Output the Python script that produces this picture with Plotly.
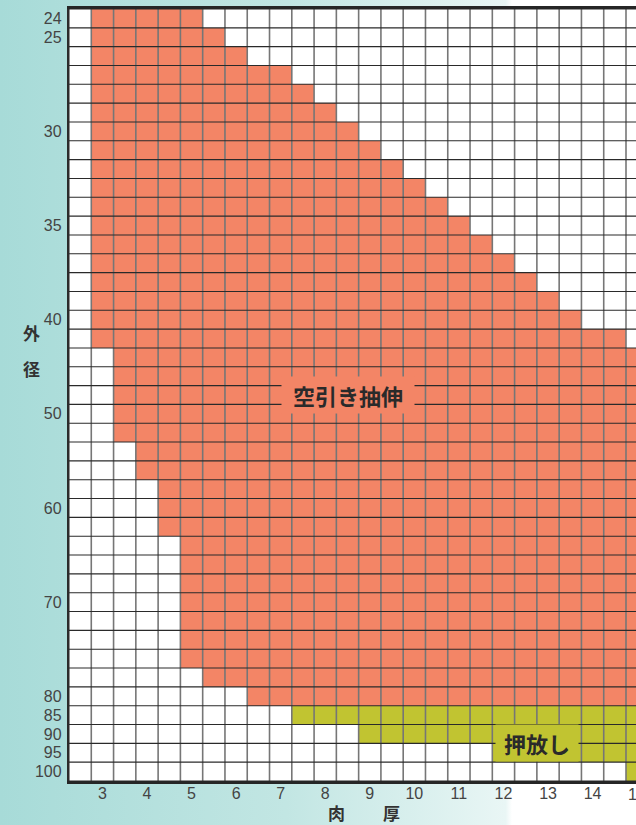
import base64
import plotly.graph_objects as go

# ---------------- data ----------------
thickness = [2.5, 3.0, 3.5, 4.0, 4.5, 5.0, 5.5, 6.0, 6.5, 7.0, 7.5, 8.0, 8.5,
             9.0, 9.5, 10.0, 10.5, 11.0, 11.5, 12.0, 12.5, 13.0, 13.5, 14.0, 14.5, 15.0]
outer_diameter = [24, 25, 26, 27, 28, 29, 30, 31, 32, 33, 34, 35, 36, 37, 38, 39, 40,
                  42, 44, 46, 48, 50, 52, 54, 56, 58, 60, 62, 64, 66, 68, 70, 72, 74,
                  76, 78, 80, 85, 90, 95, 100]
# 空引き抽伸 range (min, max thickness) for each outer diameter row (None = no cells)
cold_min = [3.0, 3.0, 3.0, 3.0, 3.0, 3.0, 3.0, 3.0, 3.0, 3.0, 3.0, 3.0, 3.0, 3.0, 3.0, 3.0, 3.0,
            3.0, 3.5, 3.5, 3.5, 3.5, 3.5, 4.0, 4.0, 4.5, 4.5, 4.5, 5.0, 5.0, 5.0, 5.0, 5.0, 5.0,
            5.0, 5.5, 6.5, None, None, None, None]
cold_max = [5.0, 5.5, 6.0, 7.0, 7.5, 8.0, 8.5, 9.0, 9.5, 10.0, 10.5, 11.0, 11.5, 12.0, 12.5, 13.0, 13.5,
            14.5, 15.0, 15.0, 15.0, 15.0, 15.0, 15.0, 15.0, 15.0, 15.0, 15.0, 15.0, 15.0, 15.0, 15.0, 15.0, 15.0,
            15.0, 15.0, 15.0, None, None, None, None]
# 押放し range
push_min = [None] * 37 + [7.5, 9.0, 12.0, 15.0]
push_max = [None] * 37 + [15.0, 15.0, 15.0, 15.0]

x_ticks = [3, 4, 5, 6, 7, 8, 9, 10, 11, 12, 13, 14, 15]
y_tick_labels = [24, 25, 30, 35, 40, 50, 60, 70, 80, 85, 90, 95, 100]

SALMON = "#F38566"
GREEN = "#C1C431"

# ---------------- build grid ----------------
z = []
for i, d in enumerate(outer_diameter):
    row = []
    for t in thickness:
        v = 0
        if cold_min[i] is not None and cold_min[i] <= t <= cold_max[i]:
            v = 1
        if push_min[i] is not None and push_min[i] <= t <= push_max[i]:
            v = 2
        row.append(v)
    z.append(row)

rows = list(range(len(outer_diameter)))
half = (thickness[1] - thickness[0]) / 2

fig = go.Figure()
fig.add_trace(go.Heatmap(
    x=thickness, y=rows, z=z, zmin=0, zmax=2,
    colorscale=[[0, "#FFFFFF"], [0.33, "#FFFFFF"], [0.34, SALMON], [0.66, SALMON],
                [0.67, GREEN], [1, GREEN]],
    showscale=False, hoverinfo="skip"))

# grid lines
xb = [t - half for t in thickness] + [thickness[-1] + half]
yb = [r - 0.5 for r in rows] + [rows[-1] + 0.5]
vx, vy = [], []
for x in xb:
    vx += [x, x, None]
    vy += [yb[0], yb[-1], None]
hx, hy = [], []
for y in yb:
    hx += [xb[0], xb[-1], None]
    hy += [y, y, None]
fig.add_trace(go.Scatter(x=vx, y=vy, mode="lines",
                         line=dict(color="#767676", width=1.6), hoverinfo="skip", showlegend=False))
fig.add_trace(go.Scatter(x=hx, y=hy, mode="lines",
                         line=dict(color="#2a2a2a", width=1.1), hoverinfo="skip", showlegend=False))

# ---------------- layout ----------------
W, H = 636, 825
ML, MR, MT, MB = 69, 0, 9, 44
pw = W - ML - MR
ph = H - MT - MB
col_px = 22.28
x_right = xb[0] + pw / (col_px * 2)


def px_x(px):
    return (px - ML) / pw


def px_y(py):
    return (H - MB - py) / ph


svg = (f'<svg xmlns="http://www.w3.org/2000/svg" width="{W}" height="{H}">'
       '<defs><linearGradient id="g" x1="0" y1="0" x2="1" y2="0">'
       '<stop offset="0" stop-color="#a7dbd8"/>'
       '<stop offset="0.45" stop-color="#c2e6e3"/>'
       '<stop offset="0.795" stop-color="#e9f6f5"/>'
       '<stop offset="0.805" stop-color="#ffffff"/>'
       '<stop offset="1" stop-color="#ffffff"/>'
       '</linearGradient></defs>'
       f'<rect x="0" y="0" width="{W}" height="{H}" fill="url(#g)"/></svg>')
src = "data:image/svg+xml;base64," + base64.b64encode(svg.encode()).decode()

tickfont = dict(family="Liberation Sans, Arial", size=16, color="#444444")

fig.update_layout(
    width=W, height=H,
    margin=dict(l=ML, r=MR, t=MT, b=MB, pad=0),
    paper_bgcolor="#ffffff", plot_bgcolor="#ffffff",
    showlegend=False,
    images=[dict(source=src, xref="paper", yref="paper",
                 x=px_x(0), y=px_y(0), sizex=W / pw, sizey=H / ph,
                 xanchor="left", yanchor="top", sizing="stretch", layer="below")],
    xaxis=dict(range=[xb[0], x_right], tickvals=x_ticks, ticktext=[str(v) for v in x_ticks],
               showgrid=False, zeroline=False, showline=True, mirror=True,
               linecolor="#262626", linewidth=2.6, automargin=False,
               ticks="", ticklabelstandoff=-4, tickfont=tickfont),
    yaxis=dict(range=[yb[-1], yb[0]],
               tickvals=[outer_diameter.index(v) for v in y_tick_labels],
               ticktext=[str(v) for v in y_tick_labels],
               showgrid=False, zeroline=False, showline=True, automargin=False,
               linecolor="#2b2b2b", linewidth=2.4,
               ticks="", ticklabelstandoff=2, tickfont=tickfont),
)

cjk = "Noto Sans CJK JP"
ann = []
# region labels
ann.append(dict(x=8.5, y=outer_diameter.index(48), xref="x", yref="y", text="空引き抽伸",
                showarrow=False, bgcolor=SALMON, width=124, height=28, borderpad=4,
                font=dict(family=cjk, size=22, color="#2a2a2a", weight="bold")))
ann.append(dict(x=12.75, y=outer_diameter.index(90) + 0.5, xref="x", yref="y", text="押放し",
                showarrow=False, bgcolor=GREEN, width=74, height=28, borderpad=4,
                font=dict(family=cjk, size=22, color="#2a2a2a", weight="bold")))
# axis titles (pixel positions -> paper)
for ch, xx, yy in [("外", 31, 332), ("径", 31, 368), ("肉", 336, 813), ("厚", 391, 813)]:
    ann.append(dict(x=px_x(xx), y=px_y(yy), xref="paper", yref="paper", text=ch,
                    xanchor="center", yanchor="middle", showarrow=False,
                    font=dict(family=cjk, size=17, color="#333333", weight="bold")))
# partially visible last x tick label (15)
ann.append(dict(x=(15 - xb[0]) / (x_right - xb[0]), y=0, xref="paper", yref="paper",
                xanchor="center", yanchor="top", yshift=-3, text="15", showarrow=False,
                font=tickfont))
fig.update_layout(annotations=ann)

fig.write_html("out.html", config={"displayModeBar": False},
               post_script="document.body.style.margin='0';document.body.style.padding='0';"
                           "document.body.style.overflow='hidden';")
